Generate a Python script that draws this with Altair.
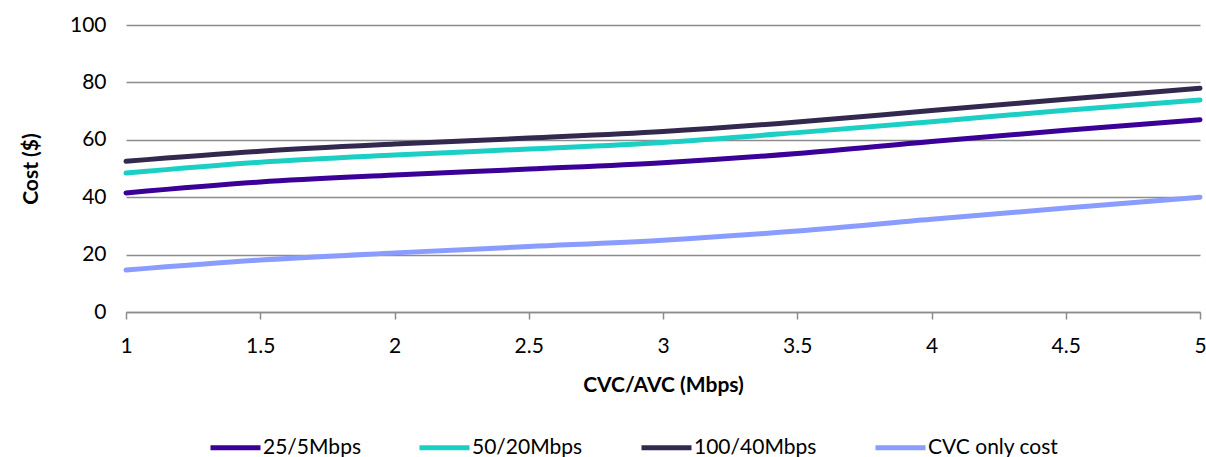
import altair as alt
import pandas as pd

x_vals = [1, 1.5, 2, 2.5, 3, 3.5, 4, 4.5, 5]
s_25_5 = [41.5, 45.3, 47.7, 49.8, 52.0, 55.2, 59.4, 63.3, 67.0]
s_50_20 = [48.4, 52.2, 54.7, 56.8, 59.1, 62.5, 66.3, 70.3, 73.9]
s_100_40 = [52.5, 56.0, 58.5, 60.6, 62.9, 66.2, 70.2, 74.1, 78.0]
s_cvc = [14.6, 18.1, 20.6, 22.8, 25.0, 28.2, 32.3, 36.2, 40.0]

series_names = ["25/5Mbps", "50/20Mbps", "100/40Mbps", "CVC only cost"]
series_colors = ["#3a0097", "#1ccfc4", "#33294f", "#8a9cff"]

rows = []
for name, vals in zip(series_names, [s_25_5, s_50_20, s_100_40, s_cvc]):
    for xv, yv in zip(x_vals, vals):
        rows.append({"x": xv, "y": yv, "series": name})
df = pd.DataFrame(rows)

FONT = "Lato"
FS = 21

chart = alt.Chart(df).mark_line(strokeWidth=5, interpolate="monotone", strokeCap="round").encode(
    x=alt.X("x:Q", title="CVC/AVC (Mbps)",
            scale=alt.Scale(domain=[1, 5], nice=False, zero=False),
            axis=alt.Axis(values=x_vals, format="~g", grid=False, tickSize=7,
                          domainColor="#8c8c8c", tickColor="#8c8c8c", domainWidth=1.5,
                          tickWidth=1.5, labelPadding=16, titlePadding=18,
                          labelFontSize=FS, titleFontSize=FS, titleFontWeight="bold",
                          labelColor="#000000", titleColor="#000000", labelFont=FONT, titleFont=FONT,
                          labelFlush=False)),
    y=alt.Y("y:Q", title="Cost ($)",
            scale=alt.Scale(domain=[0, 100], nice=False),
            axis=alt.Axis(values=[0, 20, 40, 60, 80, 100], domain=False, ticks=False,
                          gridColor="#8c8c8c", gridWidth=1.5, labelPadding=20, titlePadding=28,
                          labelFontSize=FS, titleFontSize=FS, titleFontWeight="bold",
                          labelColor="#000000", titleColor="#000000", labelFont=FONT, titleFont=FONT)),
    color=alt.Color("series:N", sort=series_names,
                    scale=alt.Scale(domain=series_names, range=series_colors),
                    legend=alt.Legend(title=None, orient="none", direction="horizontal",
                                      legendX=82, legendY=395, symbolType="stroke",
                                      symbolStrokeWidth=5, symbolSize=2500, labelFontSize=FS,
                                      labelFont=FONT, labelColor="#000000", columnPadding=48,
                                      labelOffset=0)),
).properties(
    width=1074, height=287,
    padding={"left": 126, "top": 25, "right": 6, "bottom": 145},
    autosize=alt.AutoSizeParams(type="none"),
).configure_view(stroke=None)

chart.save("out.html", embed_options={"renderer": "svg", "actions": False})
